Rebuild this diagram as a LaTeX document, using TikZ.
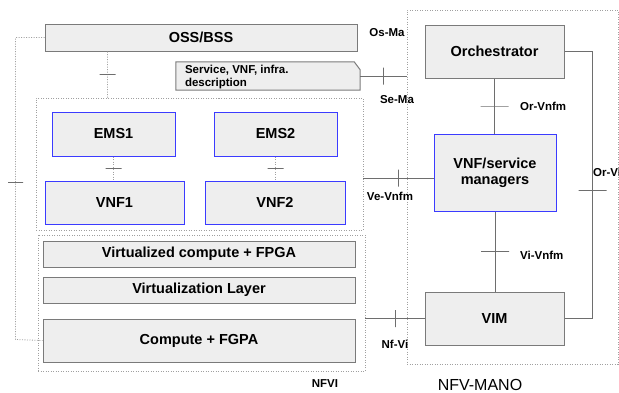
\documentclass[tikz,border=0pt]{standalone}
\usepackage{fontspec}
\setmainfont{Liberation Sans}
\definecolor{boxfill}{HTML}{EEEEEE}
\definecolor{boxgray}{HTML}{7A7A7A}
\definecolor{vblue}{HTML}{3B3BFF}
\definecolor{lgray}{HTML}{6E6E6E}
\definecolor{dgray}{HTML}{A0A0A0}

\begin{document}
\begin{tikzpicture}[x=1pt,y=-1pt,every node/.style={font=\bfseries\fontsize{14.5}{16}\selectfont}]
\tikzset{blk/.style={draw=boxgray, fill=boxfill, line width=1pt, inner sep=0},
  vblk/.style={blk, draw=vblue},
  grp/.style={draw=dgray, line width=0.8pt, dash pattern=on 1pt off 1.5pt, inner sep=0},
  dl/.style={dgray, line width=0.8pt, dash pattern=on 1pt off 1.5pt},
  sl/.style={lgray, line width=0.9pt},
  htk/.style={draw=lgray, solid, line width=0.7pt, inner sep=0, minimum height=0pt, minimum width=#1},
  htk/.default=16pt,
  vtk/.style={draw=lgray, solid, line width=0.7pt, inner sep=0, minimum width=0pt, minimum height=#1},
  vtk/.default=17pt,
  lbl/.style={font=\bfseries\fontsize{11.5}{13}\selectfont, inner sep=0}}
\useasboundingbox (0,0) rectangle (619,392);
% groups
\node[grp, minimum width=211pt, minimum height=354pt] (mano) at (512.5,187) {};
\node[grp, minimum width=327pt, minimum height=132pt] (vnfgrp) at (199.5,164) {};
\node[grp, minimum width=327pt, minimum height=136pt] (nfvi) at (201.5,303) {};
% left side blocks
\node[blk, minimum width=312pt, minimum height=27pt] (oss) at (201,37.5) {OSS/BSS};
\node[vblk, minimum width=123pt, minimum height=44pt] (ems1) at (113.5,134) {EMS1};
\node[vblk, minimum width=123pt, minimum height=44pt] (ems2) at (275.5,134) {EMS2};
\node[vblk, minimum width=139pt, minimum height=43pt] (vnf1) at (114.5,202.5) {VNF1};
\node[vblk, minimum width=140pt, minimum height=43pt] (vnf2) at (275,202.5) {VNF2};
\node[blk, minimum width=312pt, minimum height=26pt] (vcf) at (199,254) {Virtualized compute + FPGA};
\node[blk, minimum width=312pt, minimum height=26pt] (vl) at (199,290) {Virtualization Layer};
\node[blk, minimum width=312pt, minimum height=43pt] (cmp) at (199,340.5) {Compute + FGPA};
% description with folded corner
\node[minimum width=184pt, minimum height=28pt, inner sep=0] (desc) at (268,76) {};
\draw[boxgray, fill=boxfill, line width=1pt] (desc.south west) -- (desc.north west)
  -- ([xshift=-6pt]desc.north east) -- ([yshift=-8pt]desc.north east) -- (desc.south east) -- cycle;
\node[lbl, align=left, anchor=west] (desctxt) at ([xshift=9pt,yshift=-1.5pt]desc.west) {Service, VNF, infra.\\description};
% MANO blocks
\node[blk, minimum width=139pt, minimum height=53pt] (orch) at (494.5,51.5) {Orchestrator};
\node[vblk, minimum width=122pt, minimum height=77pt, align=center] (vnfm) at (495,172.5) {VNF/service\\managers};
\node[blk, minimum width=139pt, minimum height=53pt] (vim) at (494.5,318.5) {VIM};
% dotted links
\draw[dl] ([xshift=63pt]oss.south west) -- node[htk]{} ([xshift=72pt]vnfgrp.north west);
\draw[dl] (ems1.south) -- node[htk]{} (ems1.south |- vnf1.north);
\draw[dl] (ems2.south) -- node[htk]{} (ems2.south |- vnf2.north);
\draw[dl] (oss.west) -- ++(-29,0) -- node[htk=15pt,pos=.48]{} ++(0,302) -- (cmp.west);
% reference points
\coordinate (vein) at ([yshift=-5.5pt]vnfm.west);
\draw[sl] (desc.east) -- node[vtk]{} (desc.east -| mano.west);
\draw[sl] (vein -| vnfgrp.east) -- node[vtk]{} (vein);
\draw[sl] (vim.west -| nfvi.east) -- node[vtk]{} (vim.west);
\draw[sl] (orch.south) -- node[htk=28pt]{} (orch.south |- vnfm.north);
\draw[sl] (vnfm.south) -- node[htk=28pt]{} (vnfm.south |- vim.north);
\draw[sl] (orch.east) -- ++(28,0) -- node[htk=28pt,pos=.52]{} ++(0,267) -- (vim.east);
% labels
\node[lbl] (osma) at (387,33) {Os-Ma};
\node[lbl] (sema) at (397,100) {Se-Ma};
\node[lbl, anchor=west] (orvnfm) at (520,106) {Or-Vnfm};
\node[lbl, anchor=west] (orvi) at (593,172) {Or-Vi};
\node[lbl] (vevnfm) at (390,196) {Ve-Vnfm};
\node[lbl, anchor=west] (vivnfm) at (520,255) {Vi-Vnfm};
\node[lbl] (nfvilink) at (395,344) {Nf-Vi};
\node[lbl] (nfvilbl) at (325,384) {NFVI};
\node[font=\fontsize{16}{18}\selectfont, inner sep=0] (manolbl) at (480,384.5) {NFV-MANO};
\end{tikzpicture}
\end{document}
